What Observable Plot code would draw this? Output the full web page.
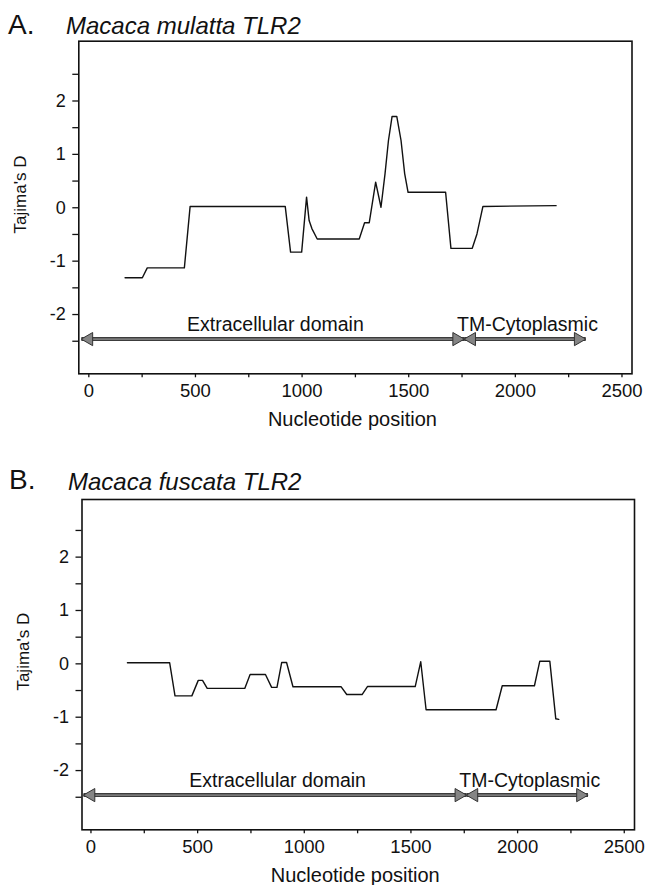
<!DOCTYPE html>
<html><head><meta charset="utf-8">
<script src="https://cdn.jsdelivr.net/npm/d3@7"></script>
<script src="https://cdn.jsdelivr.net/npm/@observablehq/plot@0.6"></script>
<style>
body{margin:0;background:#fff;}
#wrap{position:relative;width:648px;height:885px;overflow:hidden;font-family:"Liberation Sans",Arial,Helvetica,sans-serif;color:#111;}
.pl{position:absolute;left:0;}
.lab{position:absolute;font-size:28px;line-height:1;white-space:nowrap;}
.ttl{position:absolute;font-size:24px;line-height:1;font-style:italic;white-space:nowrap;}
</style></head><body><div id="wrap"></div>
<script>
// ---- data ----
const xTickValues = [0, 250, 500, 750, 1000, 1250, 1500, 1750, 2000, 2250, 2500];
const xTickLabels = ["0", "", "500", "", "1000", "", "1500", "", "2000", "", "2500"];
const yTickValues = [-2.5, -2, -1.5, -1, -0.5, 0, 0.5, 1, 1.5, 2, 2.5];
const yTickLabels = ["", "-2", "", "-1", "", "0", "", "1", "", "2", ""];

// Panel A: Macaca mulatta TLR2 (sliding-window Tajima's D)
const mulattaPos = [170, 251, 274, 448, 475, 921, 946, 998, 1021, 1033, 1046, 1071, 1268, 1293, 1315, 1345, 1370, 1389, 1405, 1422, 1444, 1464, 1481, 1497, 1673, 1698, 1798, 1820, 1848, 2191];
const mulattaD   = [-1.31, -1.31, -1.125, -1.125, 0.025, 0.025, -0.83, -0.83, 0.2, -0.24, -0.39, -0.585, -0.585, -0.28, -0.28, 0.48, 0.01, 0.64, 1.26, 1.71, 1.71, 1.26, 0.64, 0.29, 0.29, -0.76, -0.76, -0.49, 0.025, 0.04];

// Panel B: Macaca fuscata TLR2
const fuscataPos = [171, 369, 394, 473, 503, 523, 545, 721, 746, 818, 847, 872, 894, 917, 947, 1173, 1199, 1271, 1296, 1520, 1546, 1571, 1899, 1928, 2079, 2104, 2151, 2179, 2193];
const fuscataD   = [0.02, 0.02, -0.6, -0.6, -0.31, -0.31, -0.46, -0.46, -0.2, -0.2, -0.44, -0.44, 0.025, 0.025, -0.43, -0.43, -0.575, -0.575, -0.425, -0.425, 0.04, -0.86, -0.86, -0.41, -0.41, 0.05, 0.05, -1.03, -1.04];

// Protein domains (double-headed arrows)
const domainNames = ["Extracellular domain", "TM-Cytoplasmic"];
const domainStart = [-35, 1760];
const domainEnd   = [1760, 2330];
const domainLabelPos = [875, 2057];
const arrowD = -2.46;
const domainLabelD = -2.30;

const panels = [
  {letter: "A.", title: "Macaca mulatta TLR2", pos: mulattaPos, d: mulattaD,
   top: 0, height: 440, marginTop: 40.7, marginBottom: 66.7, marginLeft: 78.3, marginRight: 16.5,
   xDomain: [-47, 2547], yDomain: [-3.11, 3.12], letterTop: 11.3, titleTop: 14.2, letterLeft: 8, titleLeft: 66},
  {letter: "B.", title: "Macaca fuscata TLR2", pos: fuscataPos, d: fuscataD,
   top: 445, height: 440, marginTop: 54, marginBottom: 55.7, marginLeft: 81.5, marginRight: 14,
   xDomain: [-42, 2548], yDomain: [-3.11, 3.08], letterTop: 466.3, titleTop: 469.7, letterLeft: 9, titleLeft: 68}
];

const wrap = document.getElementById("wrap");
const FONT = '"Liberation Sans", Arial, Helvetica, sans-serif';

for (const cfg of panels) {
  const series = cfg.pos.map((p, i) => ({pos: p, d: cfg.d[i]}));
  const doms = domainNames.map((n, i) => ({name: n, start: domainStart[i], end: domainEnd[i], mid: domainLabelPos[i]}));

  const chart = Plot.plot({
    width: 648, height: cfg.height,
    marginTop: cfg.marginTop, marginBottom: cfg.marginBottom,
    marginLeft: cfg.marginLeft, marginRight: cfg.marginRight,
    style: {fontFamily: FONT, fontSize: "18px", color: "#111", background: "transparent", overflow: "visible"},
    x: {domain: cfg.xDomain},
    y: {domain: cfg.yDomain},
    marks: [
      Plot.axisX({ticks: xTickValues, tickFormat: (t) => xTickLabels[xTickValues.indexOf(t)], tickSize: 4, tickPadding: 6, label: null, strokeWidth: 1.3, fontSize: 18.5}),
      Plot.axisY({ticks: yTickValues, tickFormat: (t) => yTickLabels[yTickValues.indexOf(t)], tickSize: 6, tickPadding: 7, label: null, strokeWidth: 1.3, fontSize: 18}),
      Plot.frame({stroke: "#111", strokeWidth: 1.6}),
      Plot.line(series, {x: "pos", y: "d", stroke: "#111", strokeWidth: 1.4}),
      Plot.link(doms, {x1: "start", x2: "end", y1: () => arrowD, y2: () => arrowD, stroke: "#3c3c3c", strokeWidth: 4}),
      Plot.link(doms, {x1: "start", x2: "end", y1: () => arrowD, y2: () => arrowD, stroke: "#7a7a7a", strokeWidth: 1.6}),
      Plot.dot(doms, {x: "start", y: () => arrowD, symbol: "triangle", rotate: -90, r: 4.9, dx: 7.5, fill: "#858585", stroke: "#333", strokeWidth: 1}),
      Plot.dot(doms, {x: "end", y: () => arrowD, symbol: "triangle", rotate: 90, r: 4.9, dx: -7.5, fill: "#858585", stroke: "#333", strokeWidth: 1}),
      Plot.text(doms, {x: "mid", y: () => domainLabelD, text: "name", lineAnchor: "bottom", fontSize: 19.5, fill: "#111"}),
      Plot.text(["Nucleotide position"], {frameAnchor: "bottom", dy: 52, dx: -3, lineAnchor: "bottom", textAnchor: "middle", fontSize: 20, fill: "#111"}),
      Plot.text(["Tajima's D"], {frameAnchor: "left", dx: -58, dy: -13, rotate: -90, textAnchor: "middle", lineAnchor: "middle", fontSize: 17, fill: "#111"})
    ]
  });
  const holder = document.createElement("div");
  holder.className = "pl";
  holder.style.top = cfg.top + "px";
  holder.appendChild(chart);
  wrap.appendChild(holder);

  const letter = document.createElement("div");
  letter.className = "lab";
  letter.textContent = cfg.letter;
  letter.style.top = cfg.letterTop + "px";
  letter.style.left = cfg.letterLeft + "px";
  wrap.appendChild(letter);

  const title = document.createElement("div");
  title.className = "ttl";
  title.textContent = cfg.title;
  title.style.top = cfg.titleTop + "px";
  title.style.left = cfg.titleLeft + "px";
  wrap.appendChild(title);
}
</script>
</body></html>
